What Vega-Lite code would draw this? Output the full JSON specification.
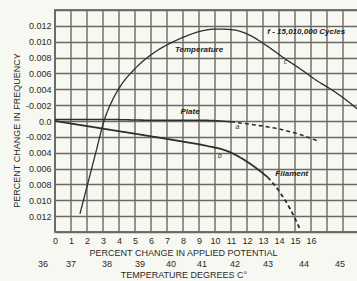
{
  "$schema": "https://vega.github.io/schema/vega-lite/v6.json",
  "autosize": {"type": "none"},
  "padding": {"left": 55, "top": 10, "right": 0, "bottom": 49},
  "width": 303,
  "height": 222,
  "background": "#f8f8f3",
  "config": {
    "view": {"stroke": "#4a4a44", "strokeWidth": 1.6},
    "font": "Liberation Sans",
    "axis": {"labelFont": "Liberation Sans", "titleFont": "Liberation Sans", "labelColor": "#2a2a26", "titleColor": "#2a2a26", "titleFontWeight": "normal"}
  },
  "datasets": {
    "curves": [
      {"series": "Temperature", "part": "measured", "potential": 1.56, "change": -0.0117},
      {"series": "Temperature", "part": "measured", "potential": 2.06, "change": -0.0078},
      {"series": "Temperature", "part": "measured", "potential": 2.56, "change": -0.0039},
      {"series": "Temperature", "part": "measured", "potential": 3.06, "change": 0.0},
      {"series": "Temperature", "part": "measured", "potential": 3.56, "change": 0.0025},
      {"series": "Temperature", "part": "measured", "potential": 4.06, "change": 0.0043},
      {"series": "Temperature", "part": "measured", "potential": 5.0, "change": 0.0066},
      {"series": "Temperature", "part": "measured", "potential": 6.25, "change": 0.0087},
      {"series": "Temperature", "part": "measured", "potential": 7.5, "change": 0.0101},
      {"series": "Temperature", "part": "measured", "potential": 8.44, "change": 0.0109},
      {"series": "Temperature", "part": "measured", "potential": 9.06, "change": 0.0113},
      {"series": "Temperature", "part": "measured", "potential": 10.1, "change": 0.0116},
      {"series": "Temperature", "part": "measured", "potential": 11.14, "change": 0.0115},
      {"series": "Temperature", "part": "measured", "potential": 12.19, "change": 0.0108},
      {"series": "Temperature", "part": "measured", "potential": 13.23, "change": 0.0095},
      {"series": "Temperature", "part": "measured", "potential": 14.27, "change": 0.008},
      {"series": "Temperature", "part": "measured", "potential": 15.31, "change": 0.0066},
      {"series": "Temperature", "part": "measured", "potential": 16.36, "change": 0.0051},
      {"series": "Temperature", "part": "measured", "potential": 17.4, "change": 0.0038},
      {"series": "Temperature", "part": "measured", "potential": 18.23, "change": 0.0026},
      {"series": "Temperature", "part": "measured", "potential": 18.9, "change": 0.0015},
      {"series": "Plate", "part": "measured", "potential": 0, "change": 0.0002},
      {"series": "Plate", "part": "measured", "potential": 3, "change": 0.0002},
      {"series": "Plate", "part": "measured", "potential": 6, "change": 0.0001},
      {"series": "Plate", "part": "measured", "potential": 9, "change": 0.0001},
      {"series": "Plate", "part": "measured", "potential": 11, "change": -0.0001},
      {"series": "Plate", "part": "extrapolated", "potential": 11, "change": -0.0001},
      {"series": "Plate", "part": "extrapolated", "potential": 12.5, "change": -0.0005},
      {"series": "Plate", "part": "extrapolated", "potential": 14, "change": -0.001},
      {"series": "Plate", "part": "extrapolated", "potential": 15.3, "change": -0.0017},
      {"series": "Plate", "part": "extrapolated", "potential": 16.4, "change": -0.0025},
      {"series": "Filament", "part": "measured", "potential": 0, "change": 0.0},
      {"series": "Filament", "part": "measured", "potential": 2.8, "change": -0.0009},
      {"series": "Filament", "part": "measured", "potential": 5.9, "change": -0.0019},
      {"series": "Filament", "part": "measured", "potential": 8, "change": -0.0026},
      {"series": "Filament", "part": "measured", "potential": 9.4, "change": -0.0031},
      {"series": "Filament", "part": "measured", "potential": 10.9, "change": -0.0039},
      {"series": "Filament", "part": "measured", "potential": 12.2, "change": -0.0054},
      {"series": "Filament", "part": "measured", "potential": 13.3, "change": -0.0071},
      {"series": "Filament", "part": "extrapolated", "potential": 13.3, "change": -0.0071},
      {"series": "Filament", "part": "extrapolated", "potential": 14.06, "change": -0.009},
      {"series": "Filament", "part": "extrapolated", "potential": 14.7, "change": -0.0111},
      {"series": "Filament", "part": "extrapolated", "potential": 15.3, "change": -0.0136}
    ],
    "labels": [
      {"kind": "name", "text": "Temperature", "potential": 9.0, "change": 0.0089},
      {"kind": "name", "text": "f - 15,010,000 Cycles", "potential": 15.7, "change": 0.0112},
      {"kind": "name", "text": "Plate", "potential": 8.44, "change": 0.00113},
      {"kind": "name", "text": "Filament", "potential": 14.8, "change": -0.0067},
      {"kind": "letter", "text": "a", "potential": 11.4, "change": -0.0007},
      {"kind": "letter", "text": "b", "potential": 10.3, "change": -0.0044},
      {"kind": "letter", "text": "c", "potential": 14.4, "change": 0.0074},
      {"kind": "temp", "text": "36", "potential": -0.75, "change": -0.018},
      {"kind": "temp", "text": "37", "potential": 1.0, "change": -0.018},
      {"kind": "temp", "text": "38", "potential": 3.25, "change": -0.018},
      {"kind": "temp", "text": "39", "potential": 5.31, "change": -0.018},
      {"kind": "temp", "text": "40", "potential": 7.25, "change": -0.018},
      {"kind": "temp", "text": "41", "potential": 9.19, "change": -0.018},
      {"kind": "temp", "text": "42", "potential": 11.25, "change": -0.018},
      {"kind": "temp", "text": "43", "potential": 13.31, "change": -0.018},
      {"kind": "temp", "text": "44", "potential": 15.56, "change": -0.018},
      {"kind": "temp", "text": "45", "potential": 17.81, "change": -0.018},
      {"kind": "temp", "text": "TEMPERATURE DEGREES C°", "potential": 8.06, "change": -0.0194}
    ],
    "xgrid": [
      {"g": 1, "potential": 1, "change": -0.014}, {"g": 1, "potential": 1, "change": 0.014},
      {"g": 2, "potential": 2, "change": -0.014}, {"g": 2, "potential": 2, "change": 0.014},
      {"g": 3, "potential": 3, "change": -0.014}, {"g": 3, "potential": 3, "change": 0.014},
      {"g": 4, "potential": 4, "change": -0.014}, {"g": 4, "potential": 4, "change": 0.014},
      {"g": 5, "potential": 5, "change": -0.014}, {"g": 5, "potential": 5, "change": 0.014},
      {"g": 6, "potential": 6, "change": -0.014}, {"g": 6, "potential": 6, "change": 0.014},
      {"g": 7, "potential": 7, "change": -0.014}, {"g": 7, "potential": 7, "change": 0.014},
      {"g": 8, "potential": 8, "change": -0.014}, {"g": 8, "potential": 8, "change": 0.014},
      {"g": 9, "potential": 9, "change": -0.014}, {"g": 9, "potential": 9, "change": 0.014},
      {"g": 10, "potential": 10, "change": -0.014}, {"g": 10, "potential": 10, "change": 0.014},
      {"g": 11, "potential": 11, "change": -0.014}, {"g": 11, "potential": 11, "change": 0.014},
      {"g": 12, "potential": 12, "change": -0.014}, {"g": 12, "potential": 12, "change": 0.014},
      {"g": 13, "potential": 13, "change": -0.014}, {"g": 13, "potential": 13, "change": 0.014},
      {"g": 14, "potential": 14, "change": -0.014}, {"g": 14, "potential": 14, "change": 0.014},
      {"g": 15, "potential": 15, "change": -0.014}, {"g": 15, "potential": 15, "change": 0.014},
      {"g": 16, "potential": 16, "change": -0.014}, {"g": 16, "potential": 16, "change": 0.014},
      {"g": 17, "potential": 17, "change": -0.014}, {"g": 17, "potential": 17, "change": 0.014},
      {"g": 18, "potential": 18, "change": -0.014}, {"g": 18, "potential": 18, "change": 0.014}
    ]
  },
  "encoding": {
    "x": {
      "field": "potential", "type": "quantitative",
      "scale": {"domain": [0, 18.9375], "nice": false, "zero": false},
      "axis": {
        "values": [0,1,2,3,4,5,6,7,8,9,10,11,12,13,14,15,16,17,18],
        "labelExpr": "datum.value > 16.5 ? '' : datum.label",
        "labelOverlap": false, "labelFlush": false,
        "grid": false,
        "ticks": false, "domain": false,
        "labelFontSize": 9, "labelPadding": 4,
        "title": "PERCENT CHANGE IN APPLIED POTENTIAL",
        "titleFontSize": 9, "titleX": 128, "titleY": 16
      }
    },
    "y": {
      "field": "change", "type": "quantitative",
      "scale": {"domain": [-0.014, 0.014], "nice": false, "zero": false},
      "axis": {
        "values": [-0.014,-0.012,-0.01,-0.008,-0.006,-0.004,-0.002,0,0.002,0.004,0.006,0.008,0.01,0.012,0.014],
        "labelExpr": "abs(datum.value) > 0.013 ? '' : abs(datum.value) < 0.0001 ? '0.0' : abs(abs(datum.value) - 0.002) < 0.0001 ? '-0.002' : format(abs(datum.value), '.3f')",
        "labelOverlap": false, "labelFlush": false,
        "grid": true, "gridColor": "#6a6a62", "gridWidth": 1.4,
        "ticks": false, "domain": false,
        "labelFontSize": 9, "labelPadding": 4,
        "title": "PERCENT CHANGE IN FREQUENCY",
        "titleFontSize": 9, "titleX": -34, "titleY": 120
      }
    }
  },
  "layer": [
    {
      "data": {"name": "xgrid"},
      "mark": {"type": "line", "color": "#6a6a62", "strokeWidth": 1.4},
      "encoding": {
        "detail": {"field": "g", "type": "nominal"}
      }
    },
    {
      "data": {"name": "curves"},
      "mark": {"type": "line", "interpolate": "monotone", "color": "#2e2e2a"},
      "encoding": {
        "detail": {"field": "series"},
        "strokeDash": {"field": "part", "type": "nominal", "scale": {"domain": ["measured", "extrapolated"], "range": [[1, 0], [4, 3]]}, "legend": null},
        "strokeWidth": {"field": "series", "type": "nominal", "scale": {"domain": ["Temperature", "Plate", "Filament"], "range": [1.3, 1.8, 1.5]}, "legend": null}
      }
    },
    {
      "data": {"name": "labels"},
      "transform": [{"filter": "datum.kind == 'name'"}],
      "mark": {"type": "text", "fontStyle": "italic", "fontWeight": "bold", "fontSize": 8, "color": "#222220", "align": "center", "baseline": "middle"},
      "encoding": {"text": {"field": "text"}}
    },
    {
      "data": {"name": "labels"},
      "transform": [{"filter": "datum.kind == 'letter'"}],
      "mark": {"type": "text", "fontStyle": "italic", "fontSize": 7, "color": "#333330", "align": "center", "baseline": "middle"},
      "encoding": {"text": {"field": "text"}}
    },
    {
      "data": {"name": "labels"},
      "transform": [{"filter": "datum.kind == 'temp'"}],
      "mark": {"type": "text", "fontSize": 9, "color": "#2a2a26", "align": "center", "baseline": "middle", "clip": false},
      "encoding": {"text": {"field": "text"}}
    }
  ]
}
